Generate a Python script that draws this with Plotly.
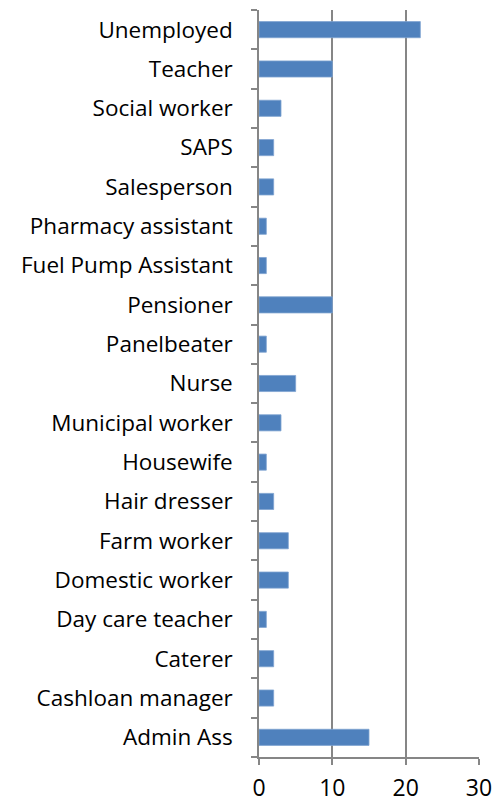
import plotly.graph_objects as go

FONT_FAMILY = "Open Sans, Lato, sans-serif"

occupations = [
    "Admin Ass", "Cashloan manager", "Caterer", "Day care teacher",
    "Domestic worker", "Farm worker", "Hair dresser", "Housewife",
    "Municipal worker", "Nurse", "Panelbeater", "Pensioner",
    "Fuel Pump Assistant", "Pharmacy assistant", "Salesperson", "SAPS",
    "Social worker", "Teacher", "Unemployed",
]
counts = [15, 2, 2, 1, 4, 4, 2, 1, 3, 5, 1, 10, 1, 1, 2, 2, 3, 10, 22]
x_ticks = [0, 10, 20, 30]

fig = go.Figure(
    go.Bar(
        x=counts, y=occupations, orientation="h",
        marker=dict(color="#4F81BD", line=dict(color="#7FA3D0", width=0.8)),
        width=0.41,
    )
)

fig.update_layout(
    width=494, height=803,
    margin=dict(l=259, r=15, t=10, b=46),
    plot_bgcolor="white", paper_bgcolor="white",
    font=dict(family=FONT_FAMILY, size=22.5, color="black"),
    showlegend=False,
)
fig.update_xaxes(
    range=[0, 30], tickvals=x_ticks, automargin=False,
    showgrid=True, gridcolor="#868686", gridwidth=1.5,
    showline=True, linecolor="#868686", linewidth=1.5,
    ticks="outside", ticklen=6, tickcolor="#868686", tickwidth=1.5,
    zeroline=False, tickfont=dict(size=23), ticklabelstandoff=4,
)
fig.update_yaxes(
    type="category", categoryorder="array", categoryarray=occupations,
    automargin=False,
    showline=True, linecolor="#868686", linewidth=1.5,
    ticks="outside", tickson="boundaries", ticklen=6,
    tickcolor="#868686", tickwidth=1.5, ticklabelstandoff=20,
    showgrid=False, range=[-0.5, len(occupations) - 0.5],
)

# drop the default 8px body margin so the figure sits at the page origin
fig.write_html(
    "out.html",
    config={"displayModeBar": False},
    post_script="document.body.style.margin='0';",
)
